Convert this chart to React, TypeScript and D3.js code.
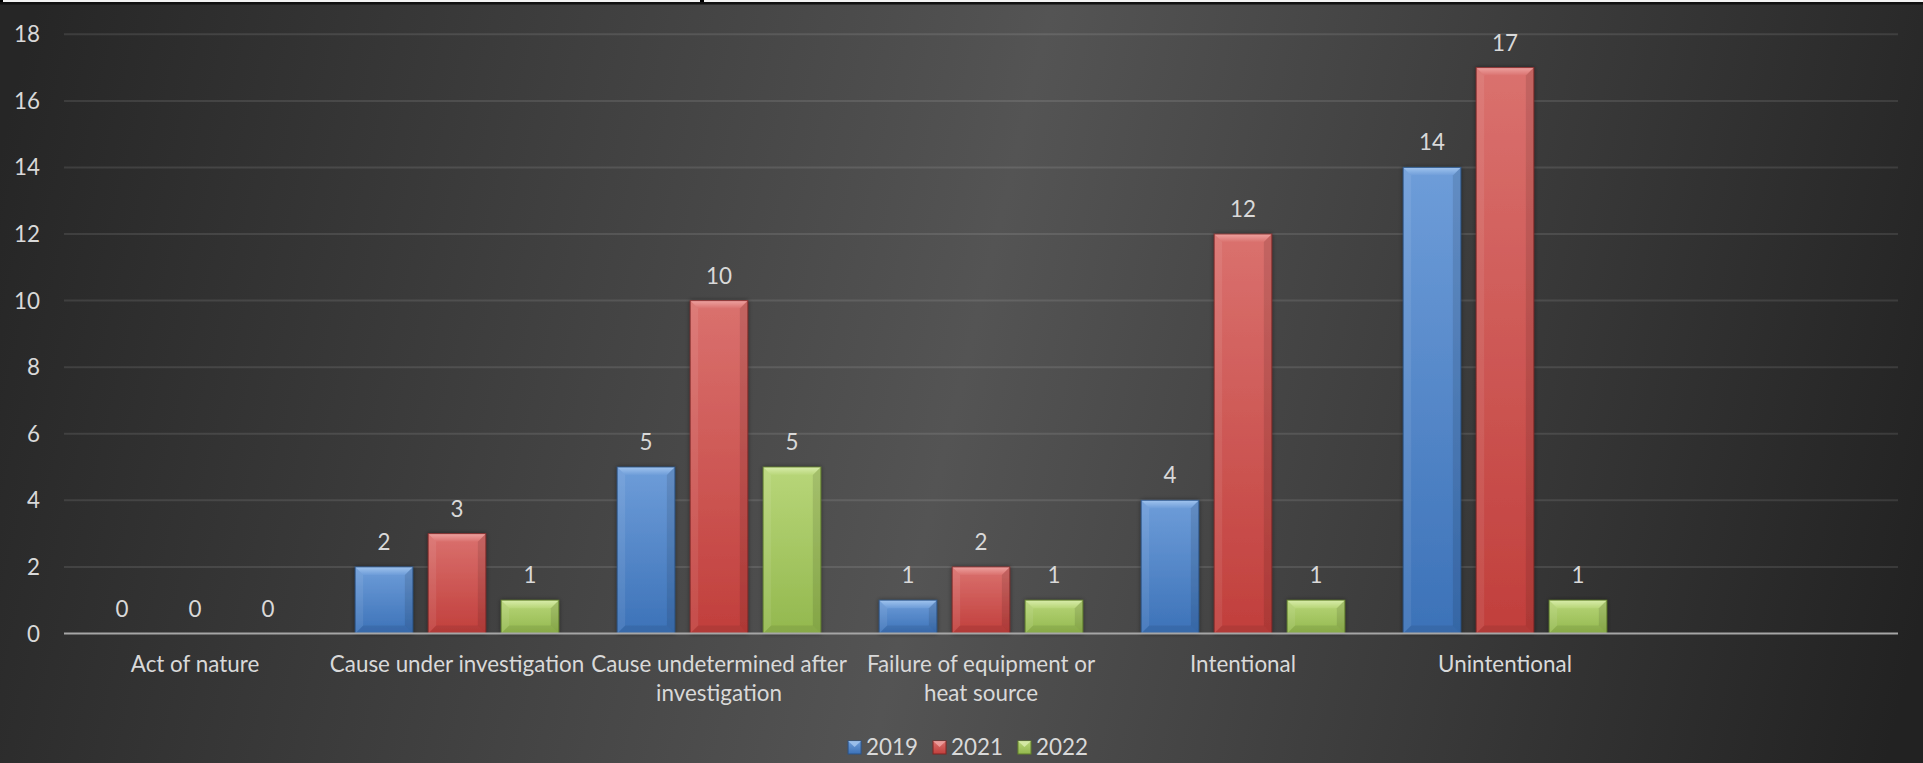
import React from 'react';
import * as d3 from 'd3';

const categories = [
  'Act of nature',
  'Cause under investigation',
  'Cause undetermined after investigation',
  'Failure of equipment or heat source',
  'Intentional',
  'Unintentional',
  '',
];
const seriesNames = ['2019', '2021', '2022'];
const values2019: (number | null)[] = [0, 2, 5, 1, 4, 14, null];
const values2021: (number | null)[] = [0, 3, 10, 2, 12, 17, null];
const values2022: (number | null)[] = [0, 1, 5, 1, 1, 1, null];
const yTicks = [0, 2, 4, 6, 8, 10, 12, 14, 16, 18];

const W = 1923;
const H = 763;
const FONT = 'Lato, "Open Sans", sans-serif';
const FS = 22.4;
const TEXT = '#d9d9d9';

const palette = [
  { top: '#6e9dd9', bottom: '#3c72b8', hi: '#a6c8f0', edge: '#2b5488' },
  { top: '#da716e', bottom: '#c13f3c', hi: '#f0a8a6', edge: '#7f2624' },
  { top: '#b8d679', bottom: '#93b84e', hi: '#dcefb0', edge: '#63822c' },
];

function measure(text: string): number {
  const c = document.createElement('canvas').getContext('2d');
  if (!c) return text.length * FS * 0.48;
  c.font = `${FS}px Lato`;
  return c.measureText(text).width;
}

function wrap(text: string, maxW: number): string[] {
  const words = text.split(' ');
  const lines: string[] = [];
  let cur = '';
  for (const w of words) {
    const t = cur ? cur + ' ' + w : w;
    if (cur && measure(t) > maxW) {
      lines.push(cur);
      cur = w;
    } else cur = t;
  }
  if (cur) lines.push(cur);
  return lines;
}

function Bar({ x, y, w, h, si }: { x: number; y: number; w: number; h: number; si: number }) {
  if (h <= 0) return null;
  const b = Math.min(8, h / 2, w / 2);
  const p = palette[si];
  const pts = (a: number[][]) => a.map((q) => q.join(',')).join(' ');
  return (
    <g filter="url(#shadow)">
      <rect x={x} y={y} width={w} height={h} fill={`url(#bar${si})`} />
      <polygon points={pts([[x, y], [x + w, y], [x + w - b, y + b], [x + b, y + b]])} fill={`url(#hi${si})`} opacity={0.9} />
      <polygon points={pts([[x, y], [x + b, y + b], [x + b, y + h - b], [x, y + h]])} fill="#ffffff" opacity={0.08} />
      <polygon points={pts([[x + w, y], [x + w, y + h], [x + w - b, y + h - b], [x + w - b, y + b]])} fill="#000000" opacity={0.1} />
      <polygon points={pts([[x, y + h], [x + b, y + h - b], [x + w - b, y + h - b], [x + w, y + h]])} fill="#000000" opacity={0.08} />
      <rect x={x} y={y} width={w} height={h} fill="none" stroke={p.edge} strokeWidth={1} strokeOpacity={0.8} />
    </g>
  );
}

export default function App() {
  const left = 64;
  const right = 1898;
  const y0 = 633.5;
  const y18 = 34.3;

  const x = d3.scaleBand<string>().domain(categories.map((c, i) => String(i))).range([left, right]).paddingInner(0).paddingOuter(0);
  const xs = d3.scaleBand<string>().domain(seriesNames).range([0, x.bandwidth()]).paddingInner(0.21).paddingOuter(0.4);
  const y = d3.scaleLinear().domain([0, 18]).range([y0, y18]);

  const series = [values2019, values2021, values2022];

  const markerW = 13;
  const gapMT = 5;
  const gapItems = 15;
  const legendItems = seriesNames.map((s) => ({ s, tw: measure(s) }));
  const totalW = legendItems.reduce((a, it) => a + markerW + gapMT + it.tw, 0) + gapItems * (legendItems.length - 1);
  let lx = 968 - totalW / 2;
  const legendPos = legendItems.map((it) => {
    const pos = { ...it, x: lx };
    lx += markerW + gapMT + it.tw + gapItems;
    return pos;
  });
  const legendY = 755;

  return (
    <svg width={W} height={H} style={{ position: 'absolute', left: 0, top: 0, display: 'block' }} fontFamily={FONT}>
      <defs>
        <linearGradient id="bg" gradientUnits="userSpaceOnUse" x1={0} y1={150} x2={W} y2={613}>
          <stop offset="0" stopColor="#262626" />
          <stop offset="0.5" stopColor="#545454" />
          <stop offset="1" stopColor="#222222" />
        </linearGradient>
        {palette.map((p, i) => (
          <linearGradient key={i} id={`bar${i}`} x1="0" y1="0" x2="0" y2="1">
            <stop offset="0" stopColor={p.top} />
            <stop offset="1" stopColor={p.bottom} />
          </linearGradient>
        ))}
        {palette.map((p, i) => (
          <linearGradient key={`h${i}`} id={`hi${i}`} x1="0" y1="0" x2="0" y2="1">
            <stop offset="0" stopColor={p.hi} />
            <stop offset="1" stopColor={p.top} />
          </linearGradient>
        ))}
        <filter id="shadow" x="-20%" y="-20%" width="140%" height="140%">
          <feDropShadow dx="0" dy="0" stdDeviation="2" floodColor="#000" floodOpacity="0.45" />
        </filter>
      </defs>
      <rect x={0} y={0} width={W} height={H} fill="url(#bg)" />
      <rect x={0} y={0} width={W} height={2} fill="#f2f2f2" />
      <rect x={0} y={0} width={3} height={2} fill="#000" />
      <rect x={700} y={0} width={4} height={3} fill="#000" />
      <rect x={0} y={2} width={W} height={2.5} fill="#111" />

      {yTicks.filter((t) => t > 0).map((t) => (
        <line key={t} x1={left} x2={right} y1={y(t)} y2={y(t)} stroke="#ffffff" strokeOpacity={0.1} strokeWidth={2} />
      ))}
      {yTicks.map((t) => (
        <text key={t} x={40} y={y(t) + 8} textAnchor="end" fontSize={FS} fill={TEXT}>
          {t}
        </text>
      ))}

      {categories.map((c, ci) =>
        series.map((vals, si) => {
          const v = vals[ci];
          if (v === null || v === undefined) return null;
          const bx = (x(String(ci)) ?? 0) + (xs(seriesNames[si]) ?? 0);
          const bw = xs.bandwidth();
          return <Bar key={`${ci}-${si}`} x={bx} y={y(v)} w={bw} h={y(0) - y(v)} si={si} />;
        })
      )}

      <line x1={left} x2={right} y1={y(0)} y2={y(0)} stroke="#a6a6a6" strokeWidth={2} />

      {categories.map((c, ci) =>
        series.map((vals, si) => {
          const v = vals[ci];
          if (v === null || v === undefined) return null;
          const cx = (x(String(ci)) ?? 0) + (xs(seriesNames[si]) ?? 0) + xs.bandwidth() / 2;
          return (
            <text key={`l${ci}-${si}`} x={cx} y={y(v) - 17} textAnchor="middle" fontSize={FS} fill={TEXT}>
              {v}
            </text>
          );
        })
      )}

      {categories.map((c, ci) => {
        const cx = (x(String(ci)) ?? 0) + x.bandwidth() / 2;
        const lines = c ? wrap(c, x.bandwidth() + 2) : [];
        return (
          <text key={`c${ci}`} textAnchor="middle" fontSize={FS} fill={TEXT}>
            {lines.map((ln, li) => (
              <tspan key={li} x={cx} y={672 + li * 29}>
                {ln}
              </tspan>
            ))}
          </text>
        );
      })}

      {legendPos.map((it, i) => {
        const p = palette[i];
        const mx = it.x;
        const my = legendY - 14;
        const b = 4;
        return (
          <g key={it.s}>
            <rect x={mx} y={my} width={markerW} height={markerW} fill={`url(#bar${i})`} stroke={p.edge} strokeWidth={1} />
            <polygon points={`${mx},${my} ${mx + markerW},${my} ${mx + markerW / 2},${my + b + 2}`} fill={p.hi} opacity={0.8} />
            <text x={mx + markerW + gapMT} y={legendY} fontSize={FS} fill={TEXT}>
              {it.s}
            </text>
          </g>
        );
      })}
    </svg>
  );
}
